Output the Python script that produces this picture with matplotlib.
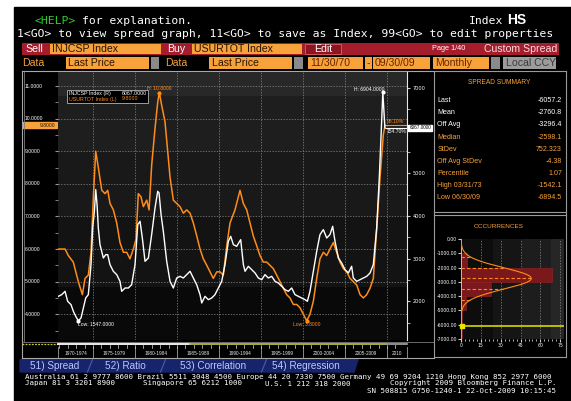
import numpy as np
import matplotlib
matplotlib.use("Agg")
import matplotlib.pyplot as plt
import matplotlib.transforms as mtransforms
from matplotlib.patches import Rectangle, Polygon

W, H = 571, 401

# ---- values ----
# USURTOT Index, left axis (orange)
urate_year = [1970.87, 1971.67, 1972.06, 1972.65, 1973.25, 1973.73, 1974.05, 1974.44, 1974.76,
              1975.04, 1975.32, 1975.63, 1976.04, 1976.43, 1976.75, 1977.02, 1977.42, 1977.82,
              1978.21, 1978.61, 1979.01, 1979.40, 1979.80, 1980.12, 1980.39, 1980.71, 1980.99,
              1981.39, 1981.67, 1981.99, 1982.38, 1982.70, 1982.89, 1983.18, 1983.57, 1983.96,
              1984.17, 1984.56, 1984.96, 1985.36, 1985.75, 1986.15, 1986.55, 1986.94, 1987.35,
              1987.74, 1988.13, 1988.54, 1988.93, 1989.32, 1989.73, 1990.12, 1990.51, 1990.92,
              1991.31, 1991.90, 1992.50, 1992.89, 1993.30, 1993.69, 1994.08, 1994.49, 1994.88,
              1995.27, 1995.68, 1996.07, 1996.46, 1996.87, 1997.26, 1997.65, 1998.06, 1998.45,
              1998.85, 1999.25, 1999.64, 2000.04, 2000.44, 2000.83, 2001.23, 2001.63, 2002.02,
              2002.42, 2002.82, 2003.21, 2003.61, 2004.01, 2004.40, 2004.80, 2005.20, 2005.60,
              2005.99, 2006.39, 2006.79, 2007.18, 2007.58, 2007.98, 2008.37, 2008.77, 2009.17,
              2009.56, 2009.76]
urate = [6.0, 6.0, 5.8, 5.6, 5.0, 4.6, 5.1, 5.2, 5.9,
         7.6, 9.0, 8.5, 7.8, 7.7, 7.8, 7.4, 7.2, 6.8,
         6.2, 5.9, 5.9, 5.7, 6.0, 6.3, 7.7, 7.6, 7.3,
         7.5, 7.2, 8.6, 9.7, 10.5, 10.8, 10.4, 9.9, 8.8,
         8.2, 7.5, 7.4, 7.3, 7.1, 7.2, 7.1, 6.8, 6.4,
         6.0, 5.7, 5.5, 5.3, 5.1, 5.3, 5.3, 5.2, 6.1,
         6.8, 7.2, 7.8, 7.4, 7.2, 6.8, 6.4, 6.1, 5.8,
         5.6, 5.6, 5.5, 5.4, 5.2, 5.0, 4.8, 4.6, 4.5,
         4.3, 4.3, 4.2, 4.0, 3.8, 4.0, 4.4, 5.1, 5.7,
         5.9, 5.8, 6.0, 6.2, 5.9, 5.6, 5.4, 5.3, 5.1,
         5.0, 4.9, 4.6, 4.5, 4.6, 4.8, 5.1, 6.6, 8.2,
         9.5, 9.8]

# INJCSP Index, right axis (white)
claims_year = [1970.87, 1971.27, 1971.67, 1971.98, 1972.38, 1972.66, 1972.94, 1973.25, 1973.57,
               1973.85, 1974.13, 1974.44, 1974.76, 1974.96, 1975.16, 1975.32, 1975.48, 1975.63,
               1975.83, 1976.23, 1976.51, 1976.75, 1977.02, 1977.42, 1977.82, 1978.21, 1978.41,
               1978.81, 1979.21, 1979.60, 1980.00, 1980.32, 1980.60, 1980.87, 1981.19, 1981.59,
               1981.98, 1982.38, 1982.70, 1982.86, 1983.10, 1983.37, 1983.77, 1984.17, 1984.56,
               1984.96, 1985.36, 1985.75, 1986.15, 1986.55, 1986.94, 1987.34, 1987.74, 1987.94,
               1988.33, 1988.73, 1989.13, 1989.52, 1989.92, 1990.32, 1990.71, 1991.11, 1991.39,
               1991.71, 1992.10, 1992.58, 1992.90, 1993.10, 1993.49, 1993.89, 1994.29, 1994.68,
               1995.08, 1995.48, 1995.87, 1996.27, 1996.67, 1997.06, 1997.46, 1997.86, 1998.25,
               1998.65, 1999.05, 1999.44, 1999.84, 2000.24, 2000.52, 2000.83, 2001.23, 2001.63,
               2002.02, 2002.42, 2002.82, 2003.21, 2003.53, 2003.81, 2004.21, 2004.60, 2005.00,
               2005.40, 2005.79, 2005.99, 2006.39, 2006.79, 2007.18, 2007.58, 2007.98, 2008.37,
               2008.77, 2009.08, 2009.33, 2009.50, 2009.75]
claims = [2121, 2160, 2238, 2004, 1926, 1770, 1653, 1547, 1614,
          1848, 2082, 2160, 2863, 3722, 4112, 4620, 4268, 3722,
          3331, 3019, 3097, 3097, 2863, 2707, 2629, 2472, 2238,
          2316, 2316, 2394, 2863, 3800, 3878, 3487, 2941, 3019,
          3566, 4190, 4581, 4542, 4034, 3644, 2941, 2472, 2316,
          2550, 2589, 2550, 2629, 2707, 2550, 2394, 2160, 1965,
          2121, 2043, 2082, 2160, 2316, 2472, 2863, 3409, 3526,
          3331, 3292, 3448, 2863, 2707, 2824, 2746, 2668, 2550,
          2511, 2629, 2550, 2589, 2472, 2433, 2355, 2277, 2238,
          2316, 2160, 2121, 2082, 2043, 2004, 2238, 2707, 3175,
          3566, 3683, 3487, 3566, 3761, 3409, 3019, 2902, 2746,
          2668, 2824, 2550, 2472, 2511, 2550, 2589, 2668, 2863,
          3722, 4893, 6064, 6904, 6067]

period_edges = [1975, 1980, 1985, 1990, 1995, 2000, 2005, 2010]
period_labels = ["1970-1974", "1975-1979", "1980-1984", "1985-1989", "1990-1994",
                 "1995-1999", "2000-2004", "2005-2009", "2010"]

summary_labels = ["Last", "Mean", "Off Avg", "Median", "StDev", "Off Avg StDev",
                  "Percentile", "High 03/31/73", "Low 06/30/09"]
summary_values = ["-6057.2", "-2760.8", "-3296.4", "-2598.1", "752.323", "-4.38",
                  "1.07", "-1542.1", "-6894.5"]

occ_bin_top = [0, -1000, -2000, -3000, -4000, -5000, -6000]
occ_pct = [0.0, 4.3, 68.5, 22.7, 3.4, 0.9, 0.7]
spread_mean = -2760.8
spread_sd = 752.323
spread_last = -6057.2

pct_orange = "98.10%"
pct_white = "154.70%"

# ---- style ----
ORANGE = "#ff8c1a"
BOXOR = "#f7a23a"
RED = "#a51c2c"
GRID = "#8a8a8a"
SANS = ["Liberation Sans", "DejaVu Sans"]
MONO = ["DejaVu Sans Mono"]

fig = plt.figure(figsize=(W / 100, H / 100), dpi=100)
fig.patch.set_facecolor("white")
pix = mtransforms.Affine2D().scale(1 / W, -1 / H).translate(0, 1) + fig.transFigure

bg = fig.add_axes([0, 0, 1, 1])
bg.set_xlim(0, W)
bg.set_ylim(H, 0)
bg.set_autoscale_on(False)
bg.axis("off")
bg.add_patch(Rectangle((14, 7), W - 14, H - 7, color="black"))


def box(x0, y0, x1, y1, fc, ec="none", lw=0):
    bg.add_patch(Rectangle((x0, y0), x1 - x0, y1 - y0, facecolor=fc, edgecolor=ec, linewidth=lw))


def txt(x, y, s, c="white", size=7.6, ha="left", fam=SANS, **kw):
    bg.text(x, y, s, color=c, fontsize=size, ha=ha, va="center", family=fam, **kw)


def px_axes(x0, y0, x1, y1):
    return fig.add_axes([x0 / W, 1 - y1 / H, (x1 - x0) / W, (y1 - y0) / H])


# header lines
txt(34.5, 20.5, "<HELP>", c="#33cc33", size=8.2, fam=MONO)
txt(82.5, 20.5, "for explanation.", size=8.2, fam=MONO)
txt(503, 20.5, "Index", size=8.2, fam=MONO, ha="right")
txt(507, 20.5, "HS", size=10, fontweight="bold")
txt(17, 34, "1<GO> to view spread graph, 11<GO> to save as Index, 99<GO> to edit properties",
    size=8.2, fam=MONO)

# red bar row
box(22, 42.7, 559, 55, RED)
txt(25.5, 48.8, "Sell")
box(49.5, 43.5, 160.5, 54.3, BOXOR)
txt(52, 48.8, "INJCSP Index", c="#2a1400")
txt(167, 48.8, "Buy")
box(191.5, 43.5, 302, 54.3, BOXOR)
txt(194, 48.8, "USURTOT Index", c="#2a1400")
box(305, 43.5, 341, 54.3, "#8e1420", ec="#d86070", lw=0.6)
txt(323, 48.8, "Edit", ha="center")
txt(432, 48.8, "Page 1/40", size=5.3)
txt(557, 48.8, "Custom Spread", c="#f6dde0", ha="right")

# data row
txt(22.6, 62.7, "Data", c=BOXOR)
box(65.7, 57, 149, 68.5, BOXOR)
txt(68, 62.7, "Last Price", c="#2a1400")
box(150.5, 57, 159, 68.5, "#8a8a8a")
txt(165, 62.7, "Data", c=BOXOR)
box(209, 57, 292, 68.5, BOXOR)
txt(211.5, 62.7, "Last Price", c="#2a1400")
box(294, 57, 303, 68.5, "#8a8a8a")
box(308, 57, 363, 68.5, BOXOR)
txt(310, 62.7, "11/30/70", c="#6a2400")
box(365, 57, 371.5, 68.5, BOXOR)
txt(368.2, 62.7, "-", c="#6a2400", ha="center")
box(373, 57, 430, 68.5, BOXOR)
txt(375, 62.7, "09/30/09", c="#6a2400")
box(433, 57, 489, 68.5, BOXOR)
txt(435, 62.7, "Monthly", c="#6a2400")
box(490.5, 57, 500, 68.5, "#8a8a8a")
box(503, 57, 556, 68.5, "#9c9c9c")
txt(506, 62.7, "Local CCY", c="#3a3a3a")

# chart container frame
frame = dict(color="#a8a8a8", lw=0.8)
bg.plot([21.5, 433.5], [71, 71], **frame)
bg.plot([21.5, 21.5], [71, 358], **frame)
bg.plot([23.8, 23.8], [72, 341], color="#7c7c7c", lw=0.6)
bg.plot([21.5, 433.5], [358, 358], **frame)
bg.plot([21.5, 433.5], [341.5, 341.5], color="#7c7c7c", lw=0.6)
bg.plot([22, 58], [344.2, 344.2], color="#c8c832", lw=0.9, ls=(0, (1.5, 1)))
bg.plot([58, 190], [344.2, 344.2], color="white", lw=1.3)
bg.plot([190, 386], [344.2, 344.2], color="#b9b942", lw=1.3)
bg.plot([386, 407], [344.2, 344.2], color="#9a9a9a", lw=1.3)

# ---- main chart ----
ax = px_axes(58, 72, 407, 340)
x_lo, x_hi = 1970.83, 2012.38
ax.set_xlim(x_lo, x_hi)
ax.set_ylim(3.21, 11.43)
ax.set_facecolor("#0a0a0a")
for lo, hi, c in [(3.21, 4.85, "#090909"), (4.85, 7.0, "#131313"), (7.0, 9.0, "#191919"),
                  (9.0, 10.7, "#1e1e1e"), (10.7, 11.43, "#282828")]:
    ax.axhspan(lo, hi, color=c, lw=0, zorder=0)
ax.set_yticks(range(4, 12))
ax.set_yticks(np.arange(3.5, 11.5, 0.5), minor=True)
ax.set_xticks(period_edges)
ax.grid(True, color=GRID, lw=0.5, ls=(0, (2, 2)))
ax.tick_params(axis="x", length=0, labelbottom=False)
ax.tick_params(axis="y", which="both", direction="out", length=2.5, color="#9a9a9a",
               labelleft=False)
for s in ax.spines.values():
    s.set_visible(False)

ax2 = ax.twinx()
ax2.set_ylim(1098, 7375)
right_ticks = list(range(2000, 8000, 1000))
ax2.set_yticks(right_ticks)
ax2.set_yticklabels(["" if v == 6000 else str(v) for v in right_ticks])
ax2.set_yticks(range(1500, 7500, 500), minor=True)
ax2.tick_params(axis="y", which="both", direction="out", length=2.5, color="#d0d0d0",
                labelsize=3.6, labelcolor="white", pad=1.5)
for name, s in ax2.spines.items():
    s.set_visible(name == "right")
ax2.spines["right"].set_color("#e6e6e6")
ax2.spines["right"].set_linewidth(0.8)

ax.plot(urate_year, urate, color=ORANGE, lw=1.1, zorder=3)
ax2.plot(claims_year, claims, color="white", lw=1.0, zorder=3)

small = dict(fontsize=3.6, family=SANS, textcoords="offset points")
i_hi, i_lo = int(np.argmax(urate)), int(np.argmin(urate))
ax.plot([urate_year[i_hi], urate_year[i_lo]], [urate[i_hi], urate[i_lo]], "o", ms=2,
        color=ORANGE, zorder=4)
ax.annotate(f"H: {urate[i_hi]:.4f}", (urate_year[i_hi], urate[i_hi]), xytext=(0, 1),
            ha="center", va="bottom", color=ORANGE, **small)
ax.annotate(f"Low: {urate[i_lo]:.4f}", (urate_year[i_lo], urate[i_lo]), xytext=(0, -1),
            ha="center", va="top", color=ORANGE, **small)
j_hi, j_lo = int(np.argmax(claims)), int(np.argmin(claims))
ax2.plot([claims_year[j_hi], claims_year[j_lo]], [claims[j_hi], claims[j_lo]], "o", ms=2,
         color="white", zorder=4)
ax2.annotate(f"H: {claims[j_hi]:.4f}", (claims_year[j_hi], claims[j_hi]), xytext=(1, 0),
             ha="right", va="bottom", color="white", **small)
ax2.annotate(f"Low: {claims[j_lo]:.4f}", (claims_year[j_lo], claims[j_lo]), xytext=(0, -1),
             ha="left", va="top", color="white", **small)

# last value lines, tags and change labels
ax.hlines(urate[-1], urate_year[-1], x_hi, color=ORANGE, lw=0.8, zorder=3)
ax2.hlines(claims[-1], claims_year[-1], x_hi, color="white", lw=0.8, zorder=3)
ax.annotate(pct_orange, (urate_year[-1], urate[-1]), xytext=(1, 1), ha="left", va="bottom",
            color=ORANGE, **small)
ax2.annotate(pct_white, (claims_year[-1], claims[-1]), xytext=(1, -1), ha="left", va="top",
             color="white", **small)

lt = mtransforms.blended_transform_factory(pix, ax.transData)
for v in range(4, 12):
    bg.text(25, v, f"{v:.4f}", transform=lt, color="white", fontsize=3.6, family=SANS,
            ha="left", va="center")
bg.add_patch(Rectangle((22.7, urate[-1] - 0.085), 34, 0.17, transform=lt, color=BOXOR))
bg.text(55.5, urate[-1], f"{urate[-1]:.4f}", transform=lt, color="#2a1400", fontsize=3.6,
        family=SANS, ha="right", va="center")

rt = mtransforms.blended_transform_factory(pix, ax2.transData)
ax2.add_patch(Rectangle((408, claims[-1] - 64), 24, 128, transform=rt, color="white",
                        clip_on=False, zorder=10))
ax2.text(409.5, claims[-1], f"{claims[-1]:.4f}", transform=rt, color="black", fontsize=3.4,
         family=SANS, ha="left", va="center", zorder=11)

# legend box
ax2.add_patch(Rectangle((66.7, 89.7), 81.6, 13.3, transform=pix, facecolor="black",
                        edgecolor="#b4b4b4", lw=0.6, clip_on=False, zorder=8))
ax2.text(69, 93.2, "INJCSP Index (R)", transform=pix, color="white", fontsize=3.8,
         family=SANS, va="center", zorder=9)
ax2.text(121.7, 93.2, f"{claims[-1]:.4f}", transform=pix, color="white", fontsize=3.8,
         family=SANS, va="center", zorder=9)
ax2.text(69, 99, "USURTOT Index (L)", transform=pix, color=ORANGE, fontsize=3.8,
         family=SANS, va="center", zorder=9)
ax2.text(121.7, 99, f"{urate[-1]:.4f}", transform=pix, color=ORANGE, fontsize=3.8,
         family=SANS, va="center", zorder=9)

# period band under the chart
bt = mtransforms.blended_transform_factory(ax.transData, pix)
edges = [x_lo] + period_edges + [x_hi]
for e in edges:
    bg.plot([e, e], [347, 358], transform=bt, color="#a0a0a0", lw=0.6)
for yr in range(1971, 2012):
    bg.plot([yr, yr], [345.3, 347.6], transform=bt, color="#dcdcdc", lw=0.5)
for lo, hi, lab in zip(edges[:-1], edges[1:], period_labels):
    bg.text((lo + hi) / 2, 353.3, lab, transform=bt, color="#e6e6e6", fontsize=3.4,
            family=SANS, ha="center", va="center")

# ---- right panel ----
pan = dict(color="#9a9a9a", lw=0.8)
bg.plot([433.5, 433.5], [71, 357], **pan)
bg.plot([566, 566], [71, 357], **pan)
bg.plot([433.5, 566], [71, 71], **pan)
bg.plot([433.5, 566], [212.3, 212.3], **pan)
bg.plot([433.5, 566], [214.8, 214.8], **pan)
bg.plot([433.5, 566], [357, 357], **pan)
txt(499, 82.5, "SPREAD SUMMARY", c=BOXOR, size=4.8, ha="center")
for i, (lab, val) in enumerate(zip(summary_labels, summary_values)):
    c = "white" if i < 3 else BOXOR
    y = 100.7 + 12.15 * i
    txt(437.3, y, lab, c=c, size=5.1)
    txt(562, y, val, c=c, size=5.1, ha="right")
txt(499, 226, "OCCURRENCES", c=BOXOR, size=4.6, ha="center")

hx = px_axes(461, 239, 564, 339)
hx.set_xlim(0, 77.8)
hx.set_ylim(-7000, 0)
hx.set_facecolor("#0d0d0d")
for lo, hi, c in [(24.2, 46, "#151515"), (46, 68, "#1d1d1d"), (68, 77.8, "#262626")]:
    hx.axvspan(lo, hi, color=c, lw=0, zorder=0)
hx.set_axisbelow(True)
hx.set_xticks(range(0, 76, 15))
hx.set_xticks(range(0, 78, 3), minor=True)
hx.set_yticks(range(-7000, 1, 1000))
hx.set_yticklabels([f"{v:.2f}" for v in range(-7000, 1, 1000)])
hx.grid(True, axis="x", color=GRID, lw=0.5, ls=(0, (2, 2)))
hx.tick_params(which="both", direction="out", color="#d0d0d0", labelsize=3.3,
               labelcolor="white", length=2, pad=1)
hx.tick_params(which="minor", length=1.2)
for name, s in hx.spines.items():
    s.set_visible(name == "left")
hx.spines["left"].set_color("#d0d0d0")
hx.spines["left"].set_linewidth(0.6)

hx.barh([b - 500 for b in occ_bin_top], occ_pct, height=1000, color="#7a181b",
        edgecolor="#962428", lw=0.4, zorder=2)
vv = np.linspace(-7000, 0, 300)
peak = 100 * 1000 / (spread_sd * np.sqrt(2 * np.pi))


def fit(v):
    return peak * np.exp(-0.5 * ((v - spread_mean) / spread_sd) ** 2)


hx.plot(fit(vv), vv, color=ORANGE, lw=0.8, zorder=4)
for k in (-2, -1, 0, 1, 2):
    lvl = spread_mean + k * spread_sd
    hx.hlines(lvl, 0, fit(lvl), color=ORANGE, lw=0.8, ls=(0, (3, 2)), zorder=4)
hx.axhline(spread_last, color="#d6d600", lw=1.2, zorder=5)
hx.plot([0.6], [spread_last], "s", ms=2.6, color="#e6e600", zorder=6, clip_on=False)

# ---- tabs and footer ----
bg.add_patch(Polygon([(20, 359.5), (358, 359.5), (354, 372), (20, 372)], closed=True,
                     color="#17236a"))
for sx in (90, 163, 264):
    bg.plot([sx - 2.5, sx + 2.5], [372, 359.5], color="#4d5cae", lw=0.8)
for x, lab in [(30, "51) Spread"), (105, "52) Ratio"), (180, "53) Correlation"),
               (272, "54) Regression")]:
    txt(x, 366, lab, c="#bcc8ff", size=7.2)

foot = dict(size=5.4, fam=MONO)
txt(25, 376.5, "Australia 61 2 9777 8600 Brazil 5511 3048 4500 Europe 44 20 7330 7500 "
    "Germany 49 69 9204 1210 Hong Kong 852 2977 6000", **foot)
txt(25, 383.5, "Japan 81 3 3201 8900", **foot)
txt(143, 383.5, "Singapore 65 6212 1000", **foot)
txt(265, 383.5, "U.S. 1 212 318 2000", **foot)
txt(556, 383.5, "Copyright 2009 Bloomberg Finance L.P.", ha="right", **foot)
txt(556, 391, "SN 508815 G750-1240-1 22-Oct-2009 10:15:45", ha="right", **foot)

fig.savefig("out.png", dpi=100, facecolor=fig.get_facecolor())
